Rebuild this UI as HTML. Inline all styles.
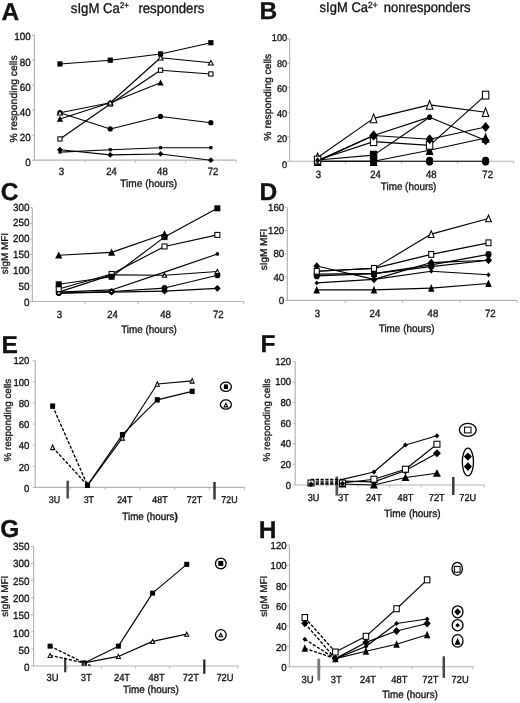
<!DOCTYPE html>
<html><head><meta charset="utf-8"><style>
html,body{margin:0;padding:0;background:#fff;}
body{width:520px;height:703px;overflow:hidden;}
svg{display:block;font-family:"Liberation Sans", sans-serif;text-rendering:geometricPrecision;}
text{fill:#111;stroke:#111;stroke-width:0.3px;}
svg{filter:grayscale(1) blur(0.3px);}
</style></head><body>
<svg width="520" height="703" viewBox="0 0 520 703">
<rect width="520" height="703" fill="#fff"/>
<text x="1.5" y="19.8" font-size="24.5" text-anchor="start" font-weight="bold" >A</text>
<path d="M34.4 35.2V160.2H236" fill="none" stroke="#b4b4b4" stroke-width="1.2"/>
<path d="M31.9 160.2H34.4 M31.9 135.2H34.4 M31.9 110.2H34.4 M31.9 85.2H34.4 M31.9 60.2H34.4 M31.9 35.2H34.4 M85.1 160.2V162.7 M135.4 160.2V162.7 M185.7 160.2V162.7 M236 160.2V162.7" stroke="#b4b4b4" stroke-width="1" fill="none"/>
<text transform="translate(30.8 165.92) scale(1 1.05)" font-size="9.9" text-anchor="end" font-weight="normal" >0</text>
<text transform="translate(30.8 140.92) scale(1 1.05)" font-size="9.9" text-anchor="end" font-weight="normal" >20</text>
<text transform="translate(30.8 115.92) scale(1 1.05)" font-size="9.9" text-anchor="end" font-weight="normal" >40</text>
<text transform="translate(30.8 90.92) scale(1 1.05)" font-size="9.9" text-anchor="end" font-weight="normal" >60</text>
<text transform="translate(30.8 65.92) scale(1 1.05)" font-size="9.9" text-anchor="end" font-weight="normal" >80</text>
<text transform="translate(30.8 39.52) scale(1 1.05)" font-size="9.9" text-anchor="end" font-weight="normal" >100</text>
<text transform="translate(61.3 175.3) scale(1 1.1)" font-size="9.6" text-anchor="middle" font-weight="normal" >3</text>
<text transform="translate(111.6 175.3) scale(1 1.1)" font-size="9.6" text-anchor="middle" font-weight="normal" >24</text>
<text transform="translate(162.4 175.3) scale(1 1.1)" font-size="9.6" text-anchor="middle" font-weight="normal" >48</text>
<text transform="translate(213 175.3) scale(1 1.1)" font-size="9.6" text-anchor="middle" font-weight="normal" >72</text>
<text transform="translate(120.2 186.5) scale(1 1.08)" font-size="10" textLength="57" lengthAdjust="spacingAndGlyphs">Time (hours)</text>
<text transform="translate(16.9 98.9) rotate(-90)" x="0" y="0" font-size="10.2" text-anchor="middle" textLength="87" lengthAdjust="spacingAndGlyphs">% responding cells</text>
<path d="M59.95 112.7L110.25 128.95" stroke="#000" stroke-width="1.15" fill="none"/>
<path d="M110.25 128.95L160.55 116.45" stroke="#000" stroke-width="1.15" fill="none"/>
<path d="M160.55 116.45L210.85 122.7" stroke="#000" stroke-width="1.15" fill="none"/>
<path d="M59.95 152.07L110.25 149.7" stroke="#000" stroke-width="1.15" fill="none"/>
<path d="M110.25 149.7L160.55 147.7" stroke="#000" stroke-width="1.15" fill="none"/>
<path d="M160.55 147.7L210.85 147.7" stroke="#000" stroke-width="1.15" fill="none"/>
<path d="M59.95 149.7L110.25 154.82" stroke="#000" stroke-width="1.15" fill="none"/>
<path d="M110.25 154.82L160.55 153.95" stroke="#000" stroke-width="1.15" fill="none"/>
<path d="M160.55 153.95L210.85 160.2" stroke="#000" stroke-width="1.15" fill="none"/>
<path d="M59.95 118.95L110.25 102.7" stroke="#000" stroke-width="1.15" fill="none"/>
<path d="M110.25 102.7L160.55 82.7" stroke="#000" stroke-width="1.15" fill="none"/>
<path d="M59.95 138.95L110.25 103.95" stroke="#000" stroke-width="1.15" fill="none"/>
<path d="M110.25 103.95L160.55 70.2" stroke="#000" stroke-width="1.15" fill="none"/>
<path d="M160.55 70.2L210.85 73.95" stroke="#000" stroke-width="1.15" fill="none"/>
<path d="M59.95 112.7L110.25 102.7" stroke="#000" stroke-width="1.15" fill="none"/>
<path d="M110.25 102.7L160.55 57.7" stroke="#000" stroke-width="1.15" fill="none"/>
<path d="M160.55 57.7L210.85 62.7" stroke="#000" stroke-width="1.15" fill="none"/>
<path d="M59.95 63.95L110.25 60.2" stroke="#000" stroke-width="1.15" fill="none"/>
<path d="M110.25 60.2L160.55 53.95" stroke="#000" stroke-width="1.15" fill="none"/>
<path d="M160.55 53.95L210.85 42.7" stroke="#000" stroke-width="1.15" fill="none"/>
<ellipse cx="59.95" cy="112.7" rx="2.6" ry="2.6" fill="#000"/>
<ellipse cx="110.25" cy="128.95" rx="2.6" ry="2.6" fill="#000"/>
<ellipse cx="160.55" cy="116.45" rx="2.6" ry="2.6" fill="#000"/>
<ellipse cx="210.85" cy="122.7" rx="2.6" ry="2.6" fill="#000"/>
<rect x="58.39" y="150.51" width="3.12" height="3.12" fill="#000"/>
<rect x="108.69" y="148.14" width="3.12" height="3.12" fill="#000"/>
<rect x="158.99" y="146.14" width="3.12" height="3.12" fill="#000"/>
<rect x="209.29" y="146.14" width="3.12" height="3.12" fill="#000"/>
<path d="M59.95 146.79L62.86 149.7L59.95 152.61L57.04 149.7Z" fill="#000"/>
<path d="M110.25 151.91L113.16 154.82L110.25 157.74L107.34 154.82Z" fill="#000"/>
<path d="M160.55 151.04L163.46 153.95L160.55 156.86L157.64 153.95Z" fill="#000"/>
<path d="M210.85 157.29L213.76 160.2L210.85 163.11L207.94 160.2Z" fill="#000"/>
<path d="M59.95 115.86L63.07 121.69L56.83 121.69Z" fill="#000"/>
<path d="M110.25 99.61L113.37 105.44L107.13 105.44Z" fill="#000"/>
<path d="M160.55 79.61L163.67 85.44L157.43 85.44Z" fill="#000"/>
<rect x="57.85" y="136.85" width="4.2" height="4.2" fill="#fff" stroke="#000" stroke-width="1.05"/>
<rect x="108.15" y="101.85" width="4.2" height="4.2" fill="#fff" stroke="#000" stroke-width="1.05"/>
<rect x="158.45" y="68.1" width="4.2" height="4.2" fill="#fff" stroke="#000" stroke-width="1.05"/>
<rect x="208.75" y="71.85" width="4.2" height="4.2" fill="#fff" stroke="#000" stroke-width="1.05"/>
<path d="M59.95 110.51L62.47 114.94L57.43 114.94Z" fill="#fff" stroke="#000" stroke-width="1.05" stroke-linejoin="miter"/>
<path d="M110.25 100.51L112.77 104.94L107.73 104.94Z" fill="#fff" stroke="#000" stroke-width="1.05" stroke-linejoin="miter"/>
<path d="M160.55 55.51L163.07 59.94L158.03 59.94Z" fill="#fff" stroke="#000" stroke-width="1.05" stroke-linejoin="miter"/>
<path d="M210.85 60.51L213.37 64.94L208.33 64.94Z" fill="#fff" stroke="#000" stroke-width="1.05" stroke-linejoin="miter"/>
<rect x="57.35" y="61.35" width="5.2" height="5.2" fill="#000"/>
<rect x="107.65" y="57.6" width="5.2" height="5.2" fill="#000"/>
<rect x="157.95" y="51.35" width="5.2" height="5.2" fill="#000"/>
<rect x="208.25" y="40.1" width="5.2" height="5.2" fill="#000"/>
<text x="259.4" y="18.75" font-size="24.5" text-anchor="start" font-weight="bold" >B</text>
<path d="M289.6 38.8V161.25H513.6" fill="none" stroke="#b4b4b4" stroke-width="1.2"/>
<path d="M287.1 161.25H289.6 M287.1 136.76H289.6 M287.1 112.27H289.6 M287.1 87.78H289.6 M287.1 63.29H289.6 M287.1 38.8H289.6 M345.6 161.25V163.75 M401.6 161.25V163.75 M457.6 161.25V163.75 M513.6 161.25V163.75" stroke="#b4b4b4" stroke-width="1" fill="none"/>
<text transform="translate(287.2 167.56) scale(1 1.05)" font-size="9.2" text-anchor="end" font-weight="normal" >0</text>
<text transform="translate(287.2 142.46) scale(1 1.05)" font-size="9.2" text-anchor="end" font-weight="normal" >20</text>
<text transform="translate(287.2 117.36) scale(1 1.05)" font-size="9.2" text-anchor="end" font-weight="normal" >40</text>
<text transform="translate(287.2 92.26) scale(1 1.05)" font-size="9.2" text-anchor="end" font-weight="normal" >60</text>
<text transform="translate(287.2 67.16) scale(1 1.05)" font-size="9.2" text-anchor="end" font-weight="normal" >80</text>
<text transform="translate(287.2 40.76) scale(1 1.05)" font-size="9.2" text-anchor="end" font-weight="normal" >100</text>
<text transform="translate(318.5 178.3) scale(1 1.1)" font-size="9.6" text-anchor="middle" font-weight="normal" >3</text>
<text transform="translate(375.5 178.3) scale(1 1.1)" font-size="9.6" text-anchor="middle" font-weight="normal" >24</text>
<text transform="translate(431.3 178.3) scale(1 1.1)" font-size="9.6" text-anchor="middle" font-weight="normal" >48</text>
<text transform="translate(487.7 178.3) scale(1 1.1)" font-size="9.6" text-anchor="middle" font-weight="normal" >72</text>
<text transform="translate(380.8 189.5) scale(1 1.08)" font-size="10" textLength="55.6" lengthAdjust="spacingAndGlyphs">Time (hours)</text>
<text transform="translate(271 97.2) rotate(-90)" x="0" y="0" font-size="10.2" text-anchor="middle" textLength="87" lengthAdjust="spacingAndGlyphs">% responding cells</text>
<path d="M317.6 161.25L373.6 161.25" stroke="#000" stroke-width="1.15" fill="none"/>
<path d="M373.6 161.25L429.6 161.25" stroke="#000" stroke-width="1.15" fill="none"/>
<path d="M429.6 161.25L485.6 161.25" stroke="#000" stroke-width="1.15" fill="none"/>
<path d="M317.6 161.25L373.6 161.25" stroke="#000" stroke-width="1.15" fill="none"/>
<path d="M373.6 161.25L429.6 150.23" stroke="#000" stroke-width="1.15" fill="none"/>
<path d="M429.6 150.23L485.6 137.98" stroke="#000" stroke-width="1.15" fill="none"/>
<path d="M317.6 157.58L373.6 118.39" stroke="#000" stroke-width="1.15" fill="none"/>
<path d="M373.6 118.39L429.6 104.92" stroke="#000" stroke-width="1.15" fill="none"/>
<path d="M429.6 104.92L485.6 112.27" stroke="#000" stroke-width="1.15" fill="none"/>
<path d="M317.6 160.03L373.6 155.13" stroke="#000" stroke-width="1.15" fill="none"/>
<path d="M373.6 155.13L429.6 117.17" stroke="#000" stroke-width="1.15" fill="none"/>
<path d="M317.6 160.03L373.6 141.66" stroke="#000" stroke-width="1.15" fill="none"/>
<path d="M373.6 141.66L429.6 145.33" stroke="#000" stroke-width="1.15" fill="none"/>
<path d="M429.6 145.33L485.6 95.13" stroke="#000" stroke-width="1.15" fill="none"/>
<path d="M317.6 161.25L373.6 135.54" stroke="#000" stroke-width="1.15" fill="none"/>
<path d="M373.6 135.54L429.6 117.17" stroke="#000" stroke-width="1.15" fill="none"/>
<path d="M429.6 117.17L485.6 140.43" stroke="#000" stroke-width="1.15" fill="none"/>
<path d="M317.6 160.52L373.6 135.54" stroke="#000" stroke-width="1.15" fill="none"/>
<path d="M373.6 135.54L429.6 139.21" stroke="#000" stroke-width="1.15" fill="none"/>
<path d="M429.6 139.21L485.6 126.96" stroke="#000" stroke-width="1.15" fill="none"/>
<ellipse cx="317.6" cy="161.25" rx="3.7" ry="4.4" fill="#000"/>
<ellipse cx="373.6" cy="161.25" rx="3.7" ry="4.4" fill="#000"/>
<ellipse cx="429.6" cy="161.25" rx="3.7" ry="4.4" fill="#000"/>
<ellipse cx="485.6" cy="161.25" rx="3.7" ry="4.4" fill="#000"/>
<path d="M317.6 155.89L321.49 166.01L313.72 166.01Z" fill="#000"/>
<path d="M373.6 155.89L377.49 166.01L369.72 166.01Z" fill="#000"/>
<path d="M429.6 144.87L433.49 154.99L425.72 154.99Z" fill="#000"/>
<path d="M485.6 132.62L489.49 142.74L481.72 142.74Z" fill="#000"/>
<path d="M317.6 153.11L320.88 161.83L314.32 161.83Z" fill="#fff" stroke="#000" stroke-width="1.05" stroke-linejoin="miter"/>
<path d="M373.6 113.93L376.88 122.65L370.32 122.65Z" fill="#fff" stroke="#000" stroke-width="1.05" stroke-linejoin="miter"/>
<path d="M429.6 100.46L432.88 109.18L426.32 109.18Z" fill="#fff" stroke="#000" stroke-width="1.05" stroke-linejoin="miter"/>
<path d="M485.6 107.81L488.88 116.53L482.32 116.53Z" fill="#fff" stroke="#000" stroke-width="1.05" stroke-linejoin="miter"/>
<rect x="369.9" y="150.73" width="7.4" height="8.8" fill="#000"/>
<ellipse cx="429.6" cy="117.17" rx="2.29" ry="2.73" fill="#000"/>
<rect x="314.4" y="156.13" width="6.4" height="7.8" fill="#fff" stroke="#000" stroke-width="1.05"/>
<rect x="370.4" y="137.76" width="6.4" height="7.8" fill="#fff" stroke="#000" stroke-width="1.05"/>
<rect x="426.4" y="141.43" width="6.4" height="7.8" fill="#fff" stroke="#000" stroke-width="1.05"/>
<rect x="482.4" y="91.23" width="6.4" height="7.8" fill="#fff" stroke="#000" stroke-width="1.05"/>
<path d="M373.6 130.61L377.74 135.54L373.6 140.46L369.46 135.54Z" fill="#000"/>
<ellipse cx="429.6" cy="117.17" rx="2.29" ry="2.73" fill="#000"/>
<path d="M485.6 135.51L489.74 140.43L485.6 145.36L481.46 140.43Z" fill="#000"/>
<path d="M317.6 157.35L320.26 160.52L317.6 163.68L314.94 160.52Z" fill="#000"/>
<path d="M373.6 130.61L377.74 135.54L373.6 140.46L369.46 135.54Z" fill="#000"/>
<path d="M429.6 134.28L433.74 139.21L429.6 144.14L425.46 139.21Z" fill="#000"/>
<path d="M485.6 122.04L489.74 126.96L485.6 131.89L481.46 126.96Z" fill="#000"/>
<text x="0.8" y="200.3" font-size="24.5" text-anchor="start" font-weight="bold" >C</text>
<path d="M32.3 207.7V301.5H243.8" fill="none" stroke="#b4b4b4" stroke-width="1.2"/>
<path d="M29.8 301.5H32.3 M29.8 285.87H32.3 M29.8 270.23H32.3 M29.8 254.6H32.3 M29.8 238.97H32.3 M29.8 223.33H32.3 M29.8 207.7H32.3 M85.17 301.5V304 M138.05 301.5V304 M190.93 301.5V304 M243.8 301.5V304" stroke="#b4b4b4" stroke-width="1" fill="none"/>
<text transform="translate(29.6 305.52) scale(1 1.05)" font-size="9.9" text-anchor="end" font-weight="normal" >0</text>
<text transform="translate(29.6 289.7) scale(1 1.05)" font-size="9.9" text-anchor="end" font-weight="normal" >50</text>
<text transform="translate(29.6 273.89) scale(1 1.05)" font-size="9.9" text-anchor="end" font-weight="normal" >100</text>
<text transform="translate(29.6 258.07) scale(1 1.05)" font-size="9.9" text-anchor="end" font-weight="normal" >150</text>
<text transform="translate(29.6 242.25) scale(1 1.05)" font-size="9.9" text-anchor="end" font-weight="normal" >200</text>
<text transform="translate(29.6 226.44) scale(1 1.05)" font-size="9.9" text-anchor="end" font-weight="normal" >250</text>
<text transform="translate(29.6 210.62) scale(1 1.05)" font-size="9.9" text-anchor="end" font-weight="normal" >300</text>
<text transform="translate(59.3 317.6) scale(1 1.1)" font-size="9.6" text-anchor="middle" font-weight="normal" >3</text>
<text transform="translate(112.5 317.6) scale(1 1.1)" font-size="9.6" text-anchor="middle" font-weight="normal" >24</text>
<text transform="translate(165.6 317.6) scale(1 1.1)" font-size="9.6" text-anchor="middle" font-weight="normal" >48</text>
<text transform="translate(218.3 317.6) scale(1 1.1)" font-size="9.6" text-anchor="middle" font-weight="normal" >72</text>
<text transform="translate(121.2 333.1) scale(1 1.08)" font-size="10" textLength="55.7" lengthAdjust="spacingAndGlyphs">Time (hours)</text>
<text transform="translate(8.4 253.6) rotate(-90)" x="0" y="0" font-size="9.9" text-anchor="middle" textLength="41.3" lengthAdjust="spacingAndGlyphs">sIgM MFI</text>
<path d="M58.74 293.06L111.61 292.12" stroke="#000" stroke-width="1.15" fill="none"/>
<path d="M111.61 292.12L164.49 291.18" stroke="#000" stroke-width="1.15" fill="none"/>
<path d="M164.49 291.18L217.36 288.37" stroke="#000" stroke-width="1.15" fill="none"/>
<path d="M58.74 293.06L111.61 291.49" stroke="#000" stroke-width="1.15" fill="none"/>
<path d="M111.61 291.49L164.49 288.06" stroke="#000" stroke-width="1.15" fill="none"/>
<path d="M164.49 288.06L217.36 275.24" stroke="#000" stroke-width="1.15" fill="none"/>
<path d="M58.74 292.12L111.61 289.93" stroke="#000" stroke-width="1.15" fill="none"/>
<path d="M111.61 289.93L164.49 272.11" stroke="#000" stroke-width="1.15" fill="none"/>
<path d="M164.49 272.11L217.36 253.97" stroke="#000" stroke-width="1.15" fill="none"/>
<path d="M58.74 292.12L111.61 274.92" stroke="#000" stroke-width="1.15" fill="none"/>
<path d="M111.61 274.92L164.49 275.24" stroke="#000" stroke-width="1.15" fill="none"/>
<path d="M164.49 275.24L217.36 271.48" stroke="#000" stroke-width="1.15" fill="none"/>
<path d="M58.74 288.99L111.61 273.99" stroke="#000" stroke-width="1.15" fill="none"/>
<path d="M111.61 273.99L164.49 246.47" stroke="#000" stroke-width="1.15" fill="none"/>
<path d="M164.49 246.47L217.36 234.9" stroke="#000" stroke-width="1.15" fill="none"/>
<path d="M58.74 255.23L111.61 252.41" stroke="#000" stroke-width="1.15" fill="none"/>
<path d="M111.61 252.41L164.49 233.96" stroke="#000" stroke-width="1.15" fill="none"/>
<path d="M58.74 284.3L111.61 276.8" stroke="#000" stroke-width="1.15" fill="none"/>
<path d="M111.61 276.8L164.49 237.09" stroke="#000" stroke-width="1.15" fill="none"/>
<path d="M164.49 237.09L217.36 208.33" stroke="#000" stroke-width="1.15" fill="none"/>
<path d="M58.74 290.36L61.44 293.06L58.74 295.76L56.04 293.06Z" fill="#fff" stroke="#000" stroke-width="1"/>
<path d="M111.61 288.76L114.97 292.12L111.61 295.48L108.25 292.12Z" fill="#000"/>
<path d="M164.49 287.82L167.85 291.18L164.49 294.54L161.13 291.18Z" fill="#000"/>
<path d="M217.36 285.01L220.72 288.37L217.36 291.73L214 288.37Z" fill="#000"/>
<ellipse cx="58.74" cy="293.06" rx="3" ry="3" fill="#000"/>
<ellipse cx="111.61" cy="291.49" rx="3" ry="3" fill="#000"/>
<ellipse cx="164.49" cy="288.06" rx="3" ry="3" fill="#000"/>
<ellipse cx="217.36" cy="275.24" rx="3" ry="3" fill="#000"/>
<path d="M111.61 289.23L113.41 292.63L109.81 292.63Z" fill="#fff" stroke="#000" stroke-width="1.05" stroke-linejoin="miter"/>
<path d="M58.74 289.42L61.44 292.12L58.74 294.82L56.04 292.12Z" fill="#fff" stroke="#000" stroke-width="1"/>
<ellipse cx="217.36" cy="253.97" rx="1.86" ry="1.86" fill="#000"/>
<path d="M58.74 290.09L60.9 294.21L56.58 294.21Z" fill="#fff" stroke="#000" stroke-width="1.05" stroke-linejoin="miter"/>
<path d="M111.61 272.9L113.77 277.02L109.45 277.02Z" fill="#fff" stroke="#000" stroke-width="1.05" stroke-linejoin="miter"/>
<path d="M164.49 273.21L166.65 277.33L162.33 277.33Z" fill="#fff" stroke="#000" stroke-width="1.05" stroke-linejoin="miter"/>
<path d="M217.36 269.46L219.52 273.58L215.2 273.58Z" fill="#fff" stroke="#000" stroke-width="1.05" stroke-linejoin="miter"/>
<rect x="56.24" y="286.49" width="5" height="5" fill="#fff" stroke="#000" stroke-width="1.05"/>
<rect x="109.11" y="271.49" width="5" height="5" fill="#fff" stroke="#000" stroke-width="1.05"/>
<rect x="161.99" y="243.97" width="5" height="5" fill="#fff" stroke="#000" stroke-width="1.05"/>
<rect x="214.86" y="232.4" width="5" height="5" fill="#fff" stroke="#000" stroke-width="1.05"/>
<path d="M58.74 251.41L62.34 258.61L55.14 258.61Z" fill="#000"/>
<path d="M111.61 248.6L115.21 255.8L108.01 255.8Z" fill="#000"/>
<path d="M164.49 230.15L168.09 237.35L160.89 237.35Z" fill="#000"/>
<rect x="55.74" y="281.3" width="6" height="6" fill="#000"/>
<rect x="108.61" y="273.8" width="6" height="6" fill="#000"/>
<rect x="161.49" y="234.09" width="6" height="6" fill="#000"/>
<rect x="214.36" y="205.33" width="6" height="6" fill="#000"/>
<text x="259.4" y="200" font-size="24.5" text-anchor="start" font-weight="bold" >D</text>
<path d="M287.3 207.4V300.3H517.1" fill="none" stroke="#b4b4b4" stroke-width="1.2"/>
<path d="M284.8 300.3H287.3 M284.8 277.07H287.3 M284.8 253.85H287.3 M284.8 230.62H287.3 M284.8 207.4H287.3 M345.35 300.3V302.8 M402.6 300.3V302.8 M459.85 300.3V302.8 M517.1 300.3V302.8" stroke="#b4b4b4" stroke-width="1" fill="none"/>
<text transform="translate(284.3 304.28) scale(1 1.05)" font-size="9.8" text-anchor="end" font-weight="normal" >0</text>
<text transform="translate(284.3 280.86) scale(1 1.05)" font-size="9.8" text-anchor="end" font-weight="normal" >40</text>
<text transform="translate(284.3 257.43) scale(1 1.05)" font-size="9.8" text-anchor="end" font-weight="normal" >80</text>
<text transform="translate(284.3 234.01) scale(1 1.05)" font-size="9.8" text-anchor="end" font-weight="normal" >120</text>
<text transform="translate(284.3 210.58) scale(1 1.05)" font-size="9.8" text-anchor="end" font-weight="normal" >160</text>
<text transform="translate(317.3 316.5) scale(1 1.1)" font-size="9.6" text-anchor="middle" font-weight="normal" >3</text>
<text transform="translate(374.9 316.5) scale(1 1.1)" font-size="9.6" text-anchor="middle" font-weight="normal" >24</text>
<text transform="translate(432.9 316.5) scale(1 1.1)" font-size="9.6" text-anchor="middle" font-weight="normal" >48</text>
<text transform="translate(490.3 316.5) scale(1 1.1)" font-size="9.6" text-anchor="middle" font-weight="normal" >72</text>
<text transform="translate(378.7 331.5) scale(1 1.08)" font-size="10" textLength="55.9" lengthAdjust="spacingAndGlyphs">Time (hours)</text>
<text transform="translate(267 249.5) rotate(-90)" x="0" y="0" font-size="9.9" text-anchor="middle" textLength="41.7" lengthAdjust="spacingAndGlyphs">sIgM MFI</text>
<path d="M316.73 289.85L373.98 289.85" stroke="#000" stroke-width="1.15" fill="none"/>
<path d="M373.98 289.85L431.23 288.11" stroke="#000" stroke-width="1.15" fill="none"/>
<path d="M431.23 288.11L488.48 283.46" stroke="#000" stroke-width="1.15" fill="none"/>
<path d="M316.73 282.88L373.98 279.4" stroke="#000" stroke-width="1.15" fill="none"/>
<path d="M373.98 279.4L431.23 271.27" stroke="#000" stroke-width="1.15" fill="none"/>
<path d="M431.23 271.27L488.48 274.75" stroke="#000" stroke-width="1.15" fill="none"/>
<path d="M316.73 266.04L373.98 279.4" stroke="#000" stroke-width="1.15" fill="none"/>
<path d="M373.98 279.4L431.23 262.56" stroke="#000" stroke-width="1.15" fill="none"/>
<path d="M431.23 262.56L488.48 260.24" stroke="#000" stroke-width="1.15" fill="none"/>
<path d="M316.73 274.17L373.98 273.59" stroke="#000" stroke-width="1.15" fill="none"/>
<path d="M373.98 273.59L431.23 266.62" stroke="#000" stroke-width="1.15" fill="none"/>
<path d="M431.23 266.62L488.48 260.24" stroke="#000" stroke-width="1.15" fill="none"/>
<path d="M316.73 275.91L373.98 273.59" stroke="#000" stroke-width="1.15" fill="none"/>
<path d="M373.98 273.59L431.23 264.88" stroke="#000" stroke-width="1.15" fill="none"/>
<path d="M431.23 264.88L488.48 254.43" stroke="#000" stroke-width="1.15" fill="none"/>
<path d="M316.73 271.27L373.98 268.37" stroke="#000" stroke-width="1.15" fill="none"/>
<path d="M373.98 268.37L431.23 254.43" stroke="#000" stroke-width="1.15" fill="none"/>
<path d="M431.23 254.43L488.48 242.82" stroke="#000" stroke-width="1.15" fill="none"/>
<path d="M316.73 271.27L373.98 268.37" stroke="#000" stroke-width="1.15" fill="none"/>
<path d="M373.98 268.37L431.23 234.11" stroke="#000" stroke-width="1.15" fill="none"/>
<path d="M431.23 234.11L488.48 218.43" stroke="#000" stroke-width="1.15" fill="none"/>
<path d="M316.73 285.81L319.97 293.43L313.49 293.43Z" fill="#000"/>
<path d="M373.98 285.81L377.22 293.43L370.74 293.43Z" fill="#000"/>
<path d="M431.23 284.07L434.47 291.69L427.99 291.69Z" fill="#000"/>
<path d="M488.48 279.43L491.72 287.04L485.24 287.04Z" fill="#000"/>
<path d="M316.73 280.43L318.89 282.88L316.73 285.33L314.56 282.88Z" fill="#000"/>
<path d="M373.98 276.95L376.14 279.4L373.98 281.85L371.81 279.4Z" fill="#000"/>
<path d="M431.23 268.82L433.39 271.27L431.23 273.72L429.06 271.27Z" fill="#000"/>
<path d="M488.48 272.3L490.64 274.75L488.48 277.2L486.31 274.75Z" fill="#000"/>
<path d="M316.73 262.24L320.09 266.04L316.73 269.85L313.37 266.04Z" fill="#000"/>
<path d="M373.98 275.59L377.34 279.4L373.98 283.21L370.62 279.4Z" fill="#000"/>
<path d="M431.23 258.75L434.59 262.56L431.23 266.37L427.87 262.56Z" fill="#000"/>
<path d="M488.48 256.43L491.84 260.24L488.48 264.04L485.12 260.24Z" fill="#000"/>
<ellipse cx="316.73" cy="274.17" rx="3" ry="3.4" fill="#000"/>
<rect x="370.98" y="270.19" width="6" height="6.8" fill="#000"/>
<ellipse cx="431.23" cy="266.62" rx="3" ry="3.4" fill="#000"/>
<path d="M488.48 256.43L491.84 260.24L488.48 264.04L485.12 260.24Z" fill="#000"/>
<ellipse cx="316.73" cy="275.91" rx="3" ry="3.4" fill="#000"/>
<ellipse cx="373.98" cy="273.59" rx="3" ry="3.4" fill="#000"/>
<ellipse cx="431.23" cy="264.88" rx="3" ry="3.4" fill="#000"/>
<ellipse cx="488.48" cy="254.43" rx="3" ry="3.4" fill="#000"/>
<rect x="314.23" y="268.37" width="5" height="5.8" fill="#fff" stroke="#000" stroke-width="1.05"/>
<rect x="371.48" y="265.47" width="5" height="5.8" fill="#fff" stroke="#000" stroke-width="1.05"/>
<rect x="428.73" y="251.53" width="5" height="5.8" fill="#fff" stroke="#000" stroke-width="1.05"/>
<rect x="485.98" y="239.92" width="5" height="5.8" fill="#fff" stroke="#000" stroke-width="1.05"/>
<path d="M431.23 230.7L434.08 237.43L428.37 237.43Z" fill="#fff" stroke="#000" stroke-width="1.05" stroke-linejoin="miter"/>
<path d="M488.48 215.03L491.33 221.75L485.62 221.75Z" fill="#fff" stroke="#000" stroke-width="1.05" stroke-linejoin="miter"/>
<text x="1.6" y="353.1" font-size="24.5" text-anchor="start" font-weight="bold" >E</text>
<path d="M35.2 360.8V487.4H244.5" fill="none" stroke="#b4b4b4" stroke-width="1.2"/>
<path d="M32.7 487.4H35.2 M32.7 466.3H35.2 M32.7 445.2H35.2 M32.7 424.1H35.2 M32.7 403H35.2 M32.7 381.9H35.2 M32.7 360.8H35.2 M70.08 487.4V489.9 M104.97 487.4V489.9 M139.85 487.4V489.9 M174.73 487.4V489.9 M209.62 487.4V489.9 M244.5 487.4V489.9" stroke="#b4b4b4" stroke-width="1" fill="none"/>
<text transform="translate(29.4 492.01) scale(1 1.05)" font-size="9.6" text-anchor="end" font-weight="normal" >0</text>
<text transform="translate(29.4 470.71) scale(1 1.05)" font-size="9.6" text-anchor="end" font-weight="normal" >20</text>
<text transform="translate(29.4 449.41) scale(1 1.05)" font-size="9.6" text-anchor="end" font-weight="normal" >40</text>
<text transform="translate(29.4 428.11) scale(1 1.05)" font-size="9.6" text-anchor="end" font-weight="normal" >60</text>
<text transform="translate(29.4 406.81) scale(1 1.05)" font-size="9.6" text-anchor="end" font-weight="normal" >80</text>
<text transform="translate(29.4 385.51) scale(1 1.05)" font-size="9.6" text-anchor="end" font-weight="normal" >100</text>
<text transform="translate(29.4 364.21) scale(1 1.05)" font-size="9.6" text-anchor="end" font-weight="normal" >120</text>
<text transform="translate(54.5 502.7) scale(1 1.1)" font-size="8.9" text-anchor="middle" font-weight="normal" >3U</text>
<text transform="translate(88.8 502.7) scale(1 1.1)" font-size="8.9" text-anchor="middle" font-weight="normal" >3T</text>
<text transform="translate(124.8 502.7) scale(1 1.1)" font-size="8.9" text-anchor="middle" font-weight="normal" >24T</text>
<text transform="translate(160 502.7) scale(1 1.1)" font-size="8.9" text-anchor="middle" font-weight="normal" >48T</text>
<text transform="translate(194.5 502.7) scale(1 1.1)" font-size="8.9" text-anchor="middle" font-weight="normal" >72T</text>
<text transform="translate(229.5 502.7) scale(1 1.1)" font-size="8.9" text-anchor="middle" font-weight="normal" >72U</text>
<text transform="translate(122.3 520) scale(1 1.08)" font-size="9.8" textLength="55.4" lengthAdjust="spacingAndGlyphs">Time (hours<tspan font-weight="bold">)</tspan></text>
<text transform="translate(10.5 420.25) rotate(-90)" x="0" y="0" font-size="9.8" text-anchor="middle" textLength="82.7" lengthAdjust="spacingAndGlyphs">% responding cells</text>
<rect x="66.5" y="480.7" width="2.4" height="17.8" fill="#444"/>
<rect x="213.3" y="482" width="2.4" height="17.5" fill="#333"/>
<path d="M52.64 447.31L87.53 485.29" stroke="#000" stroke-width="1.35" fill="none" stroke-dasharray="3.2 1.6"/>
<path d="M87.53 485.29L122.41 437.81" stroke="#000" stroke-width="1.15" fill="none"/>
<path d="M122.41 437.81L157.29 384.01" stroke="#000" stroke-width="1.15" fill="none"/>
<path d="M157.29 384.01L192.18 380.85" stroke="#000" stroke-width="1.15" fill="none"/>
<path d="M52.64 406.16L87.53 485.29" stroke="#000" stroke-width="1.35" fill="none" stroke-dasharray="3.2 1.6"/>
<path d="M87.53 485.29L122.41 434.65" stroke="#000" stroke-width="1.15" fill="none"/>
<path d="M122.41 434.65L157.29 399.84" stroke="#000" stroke-width="1.15" fill="none"/>
<path d="M157.29 399.84L192.18 391.39" stroke="#000" stroke-width="1.15" fill="none"/>
<path d="M52.64 445.06L54.67 449.6L50.62 449.6Z" fill="#fff" stroke="#000" stroke-width="1.05" stroke-linejoin="miter"/>
<path d="M87.53 483.04L89.55 487.58L85.5 487.58Z" fill="#fff" stroke="#000" stroke-width="1.05" stroke-linejoin="miter"/>
<path d="M122.41 435.57L124.43 440.11L120.38 440.11Z" fill="#fff" stroke="#000" stroke-width="1.05" stroke-linejoin="miter"/>
<path d="M157.29 381.76L159.32 386.3L155.27 386.3Z" fill="#fff" stroke="#000" stroke-width="1.05" stroke-linejoin="miter"/>
<path d="M192.18 378.6L194.2 383.14L190.15 383.14Z" fill="#fff" stroke="#000" stroke-width="1.05" stroke-linejoin="miter"/>
<rect x="50.14" y="403.46" width="5" height="5.4" fill="#000"/>
<rect x="85.03" y="482.59" width="5" height="5.4" fill="#000"/>
<rect x="119.91" y="431.95" width="5" height="5.4" fill="#000"/>
<rect x="154.79" y="397.14" width="5" height="5.4" fill="#000"/>
<rect x="189.68" y="388.69" width="5" height="5.4" fill="#000"/>
<ellipse cx="225.9" cy="386.7" rx="5.5" ry="4.6" fill="#fff" stroke="#000" stroke-width="1.3"/>
<rect x="223.9" y="384.4" width="4" height="4.6" fill="#000"/>
<ellipse cx="225.9" cy="404.5" rx="5.5" ry="4.6" fill="#fff" stroke="#000" stroke-width="1.3"/>
<path d="M225.9 403.22L227.72 406.88L224.09 406.88Z" fill="#fff" stroke="#000" stroke-width="1.05" stroke-linejoin="miter"/>
<text x="260.6" y="351.5" font-size="24.5" text-anchor="start" font-weight="bold" >F</text>
<path d="M295.2 361.2V485H484.2" fill="none" stroke="#b4b4b4" stroke-width="1.2"/>
<path d="M292.7 485H295.2 M292.7 464.37H295.2 M292.7 443.73H295.2 M292.7 423.1H295.2 M292.7 402.47H295.2 M292.7 381.83H295.2 M292.7 361.2H295.2 M326.7 485V487.5 M358.2 485V487.5 M389.7 485V487.5 M421.2 485V487.5 M452.7 485V487.5 M484.2 485V487.5" stroke="#b4b4b4" stroke-width="1" fill="none"/>
<text transform="translate(291.2 488.81) scale(1 1.05)" font-size="9.6" text-anchor="end" font-weight="normal" >0</text>
<text transform="translate(291.2 468.11) scale(1 1.05)" font-size="9.6" text-anchor="end" font-weight="normal" >20</text>
<text transform="translate(291.2 447.41) scale(1 1.05)" font-size="9.6" text-anchor="end" font-weight="normal" >40</text>
<text transform="translate(291.2 426.71) scale(1 1.05)" font-size="9.6" text-anchor="end" font-weight="normal" >60</text>
<text transform="translate(291.2 406.01) scale(1 1.05)" font-size="9.6" text-anchor="end" font-weight="normal" >80</text>
<text transform="translate(291.2 385.31) scale(1 1.05)" font-size="9.6" text-anchor="end" font-weight="normal" >100</text>
<text transform="translate(291.2 364.61) scale(1 1.05)" font-size="9.6" text-anchor="end" font-weight="normal" >120</text>
<text transform="translate(313.5 501.3) scale(1 1.1)" font-size="9.2" text-anchor="middle" font-weight="normal" >3U</text>
<text transform="translate(343.4 501.3) scale(1 1.1)" font-size="9.2" text-anchor="middle" font-weight="normal" >3T</text>
<text transform="translate(373.9 501.3) scale(1 1.1)" font-size="9.2" text-anchor="middle" font-weight="normal" >24T</text>
<text transform="translate(405.5 501.3) scale(1 1.1)" font-size="9.2" text-anchor="middle" font-weight="normal" >48T</text>
<text transform="translate(436.7 501.3) scale(1 1.1)" font-size="9.2" text-anchor="middle" font-weight="normal" >72T</text>
<text transform="translate(467.7 501.3) scale(1 1.1)" font-size="9.2" text-anchor="middle" font-weight="normal" >72U</text>
<text transform="translate(384.3 517) scale(1 1.08)" font-size="9.9" textLength="56.2" lengthAdjust="spacingAndGlyphs">Time (hours)</text>
<text transform="translate(270.2 420) rotate(-90)" x="0" y="0" font-size="9.8" text-anchor="middle" textLength="83" lengthAdjust="spacingAndGlyphs">% responding cells</text>
<rect x="335.5" y="476.5" width="2.6" height="19.1" fill="#555"/>
<rect x="452.1" y="477" width="2.4" height="18" fill="#333"/>
<path d="M310.95 483.97L342.45 483.97" stroke="#000" stroke-width="1.35" fill="none" stroke-dasharray="3.2 1.6"/>
<path d="M342.45 483.97L373.95 485" stroke="#000" stroke-width="1.15" fill="none"/>
<path d="M373.95 485L405.45 477.47" stroke="#000" stroke-width="1.15" fill="none"/>
<path d="M405.45 477.47L436.95 473.24" stroke="#000" stroke-width="1.15" fill="none"/>
<path d="M310.95 481.18L342.45 481.18" stroke="#000" stroke-width="1.35" fill="none" stroke-dasharray="3.2 1.6"/>
<path d="M342.45 481.18L373.95 481.9" stroke="#000" stroke-width="1.15" fill="none"/>
<path d="M373.95 481.9L405.45 470.56" stroke="#000" stroke-width="1.15" fill="none"/>
<path d="M405.45 470.56L436.95 453.22" stroke="#000" stroke-width="1.15" fill="none"/>
<path d="M310.95 479.43L342.45 479.43" stroke="#000" stroke-width="1.35" fill="none" stroke-dasharray="3.2 1.6"/>
<path d="M342.45 479.43L373.95 472" stroke="#000" stroke-width="1.15" fill="none"/>
<path d="M373.95 472L405.45 444.97" stroke="#000" stroke-width="1.15" fill="none"/>
<path d="M405.45 444.97L436.95 435.79" stroke="#000" stroke-width="1.15" fill="none"/>
<path d="M310.95 483.04L342.45 483.04" stroke="#000" stroke-width="1.35" fill="none" stroke-dasharray="3.2 1.6"/>
<path d="M342.45 483.04L373.95 479.22" stroke="#000" stroke-width="1.15" fill="none"/>
<path d="M373.95 479.22L405.45 469.22" stroke="#000" stroke-width="1.15" fill="none"/>
<path d="M405.45 469.22L436.95 444.25" stroke="#000" stroke-width="1.15" fill="none"/>
<path d="M342.45 479.89L346.47 487.59L338.43 487.59Z" fill="#000"/>
<path d="M373.95 480.92L377.97 488.62L369.93 488.62Z" fill="#000"/>
<path d="M405.45 473.39L409.47 481.09L401.43 481.09Z" fill="#000"/>
<path d="M436.95 469.16L440.97 476.86L432.93 476.86Z" fill="#000"/>
<path d="M373.95 477.98L377.87 481.9L373.95 485.82L370.03 481.9Z" fill="#000"/>
<path d="M405.45 466.64L409.37 470.56L405.45 474.48L401.53 470.56Z" fill="#000"/>
<path d="M436.95 449.3L440.87 453.22L436.95 457.14L433.03 453.22Z" fill="#000"/>
<path d="M373.95 469.48L376.47 472L373.95 474.52L371.43 472Z" fill="#000"/>
<path d="M405.45 442.45L407.97 444.97L405.45 447.49L402.93 444.97Z" fill="#000"/>
<path d="M436.95 433.27L439.47 435.79L436.95 438.31L434.43 435.79Z" fill="#000"/>
<rect x="307.95" y="480.04" width="6" height="6" fill="#fff" stroke="#000" stroke-width="1.05"/>
<rect x="339.45" y="480.04" width="6" height="6" fill="#fff" stroke="#000" stroke-width="1.05"/>
<rect x="370.95" y="476.22" width="6" height="6" fill="#fff" stroke="#000" stroke-width="1.05"/>
<rect x="402.45" y="466.22" width="6" height="6" fill="#fff" stroke="#000" stroke-width="1.05"/>
<rect x="433.95" y="441.25" width="6" height="6" fill="#fff" stroke="#000" stroke-width="1.05"/>
<path d="M310.95 481.37L313.75 484.17L310.95 486.97L308.15 484.17Z" fill="#000"/>
<path d="M342.45 480.65L345.25 483.45L342.45 486.25L339.65 483.45Z" fill="#000"/>
<ellipse cx="467.8" cy="429.8" rx="8.4" ry="6.5" fill="#fff" stroke="#000" stroke-width="1.3"/>
<rect x="464.6" y="427.1" width="6.4" height="5.8" fill="#fff" stroke="#000" stroke-width="1.05"/>
<ellipse cx="467.9" cy="461.9" rx="5.6" ry="13.8" fill="#fff" stroke="#000" stroke-width="1.3"/>
<path d="M467.9 452.57L471.93 456.6L467.9 460.63L463.87 456.6Z" fill="#000"/>
<path d="M467.9 462.23L471.93 466.6L467.9 470.97L463.87 466.6Z" fill="#000"/>
<text x="0.2" y="537" font-size="24.5" text-anchor="start" font-weight="bold" >G</text>
<path d="M33.6 546.2V666H238" fill="none" stroke="#b4b4b4" stroke-width="1.2"/>
<path d="M31.1 666H33.6 M31.1 648.89H33.6 M31.1 631.77H33.6 M31.1 614.66H33.6 M31.1 597.54H33.6 M31.1 580.43H33.6 M31.1 563.31H33.6 M31.1 546.2H33.6 M67.17 666V668.5 M101.33 666V668.5 M135.5 666V668.5 M169.67 666V668.5 M203.83 666V668.5 M238 666V668.5" stroke="#b4b4b4" stroke-width="1" fill="none"/>
<text transform="translate(29.5 671.32) scale(1 1.05)" font-size="9.9" text-anchor="end" font-weight="normal" >0</text>
<text transform="translate(29.5 653.96) scale(1 1.05)" font-size="9.9" text-anchor="end" font-weight="normal" >50</text>
<text transform="translate(29.5 636.61) scale(1 1.05)" font-size="9.9" text-anchor="end" font-weight="normal" >100</text>
<text transform="translate(29.5 619.25) scale(1 1.05)" font-size="9.9" text-anchor="end" font-weight="normal" >150</text>
<text transform="translate(29.5 601.89) scale(1 1.05)" font-size="9.9" text-anchor="end" font-weight="normal" >200</text>
<text transform="translate(29.5 584.54) scale(1 1.05)" font-size="9.9" text-anchor="end" font-weight="normal" >250</text>
<text transform="translate(29.5 567.18) scale(1 1.05)" font-size="9.9" text-anchor="end" font-weight="normal" >300</text>
<text transform="translate(29.5 549.82) scale(1 1.05)" font-size="9.9" text-anchor="end" font-weight="normal" >350</text>
<text transform="translate(52.5 681) scale(1 1.1)" font-size="9.4" text-anchor="middle" font-weight="normal" >3U</text>
<text transform="translate(86.3 681) scale(1 1.1)" font-size="9.4" text-anchor="middle" font-weight="normal" >3T</text>
<text transform="translate(122 681) scale(1 1.1)" font-size="9.4" text-anchor="middle" font-weight="normal" >24T</text>
<text transform="translate(156.6 681) scale(1 1.1)" font-size="9.4" text-anchor="middle" font-weight="normal" >48T</text>
<text transform="translate(190.8 681) scale(1 1.1)" font-size="9.4" text-anchor="middle" font-weight="normal" >72T</text>
<text transform="translate(225 681) scale(1 1.1)" font-size="9.4" text-anchor="middle" font-weight="normal" >72U</text>
<text transform="translate(123.1 693.1) scale(1 1.08)" font-size="9.9" textLength="55.7" lengthAdjust="spacingAndGlyphs">Time (hours)</text>
<text transform="translate(8.4 596.35) rotate(-90)" x="0" y="0" font-size="9.8" text-anchor="middle" textLength="41" lengthAdjust="spacingAndGlyphs">sIgM MFI</text>
<rect x="64.1" y="657.6" width="2.2" height="14.7" fill="#333"/>
<rect x="203.2" y="659.5" width="2.2" height="14.3" fill="#222"/>
<path d="M50.08 646.15L84.25 662.92" stroke="#000" stroke-width="1.35" fill="none" stroke-dasharray="3.2 1.6"/>
<path d="M84.25 662.92L118.42 646.15" stroke="#000" stroke-width="1.15" fill="none"/>
<path d="M118.42 646.15L152.58 593.09" stroke="#000" stroke-width="1.15" fill="none"/>
<path d="M152.58 593.09L186.75 564.34" stroke="#000" stroke-width="1.15" fill="none"/>
<path d="M50.08 655.39L84.25 662.92" stroke="#000" stroke-width="1.35" fill="none" stroke-dasharray="3.2 1.6"/>
<path d="M84.25 662.92L118.42 656.42" stroke="#000" stroke-width="1.15" fill="none"/>
<path d="M118.42 656.42L152.58 641.36" stroke="#000" stroke-width="1.15" fill="none"/>
<path d="M152.58 641.36L186.75 634.17" stroke="#000" stroke-width="1.15" fill="none"/>
<rect x="47.58" y="643.65" width="5" height="5" fill="#000"/>
<rect x="81.75" y="660.42" width="5" height="5" fill="#000"/>
<rect x="115.92" y="643.65" width="5" height="5" fill="#000"/>
<rect x="150.08" y="590.59" width="5" height="5" fill="#000"/>
<rect x="184.25" y="561.84" width="5" height="5" fill="#000"/>
<path d="M50.08 653.37L52.11 657.47L48.06 657.47Z" fill="#fff" stroke="#000" stroke-width="1.05" stroke-linejoin="miter"/>
<path d="M84.25 660.9L86.28 665L82.22 665Z" fill="#fff" stroke="#000" stroke-width="1.05" stroke-linejoin="miter"/>
<path d="M118.42 654.4L120.44 658.5L116.39 658.5Z" fill="#fff" stroke="#000" stroke-width="1.05" stroke-linejoin="miter"/>
<path d="M152.58 639.34L154.61 643.44L150.56 643.44Z" fill="#fff" stroke="#000" stroke-width="1.05" stroke-linejoin="miter"/>
<path d="M186.75 632.15L188.78 636.25L184.72 636.25Z" fill="#fff" stroke="#000" stroke-width="1.05" stroke-linejoin="miter"/>
<path d="M84.3 662.9L91 665.8" stroke="#000" stroke-width="1.35" stroke-dasharray="2.6 1.6"/>
<ellipse cx="220.8" cy="563.5" rx="5.35" ry="5.35" fill="#fff" stroke="#000" stroke-width="1.3"/>
<rect x="218.3" y="560.9" width="5" height="5" fill="#000"/>
<ellipse cx="220.8" cy="634.9" rx="5.35" ry="5.35" fill="#fff" stroke="#000" stroke-width="1.3"/>
<path d="M220.8 633.33L222.62 636.77L218.99 636.77Z" fill="#fff" stroke="#000" stroke-width="1.05" stroke-linejoin="miter"/>
<text x="258.7" y="537.7" font-size="24.5" text-anchor="start" font-weight="bold" >H</text>
<path d="M289.5 545V666.75H473" fill="none" stroke="#b4b4b4" stroke-width="1.2"/>
<path d="M287 666.75H289.5 M287 646.46H289.5 M287 626.17H289.5 M287 605.88H289.5 M287 585.58H289.5 M287 565.29H289.5 M287 545H289.5 M320.08 666.75V669.25 M350.67 666.75V669.25 M381.25 666.75V669.25 M411.83 666.75V669.25 M442.42 666.75V669.25 M473 666.75V669.25" stroke="#b4b4b4" stroke-width="1" fill="none"/>
<text transform="translate(286.6 671.01) scale(1 1.05)" font-size="9.6" text-anchor="end" font-weight="normal" >0</text>
<text transform="translate(286.6 650.69) scale(1 1.05)" font-size="9.6" text-anchor="end" font-weight="normal" >20</text>
<text transform="translate(286.6 630.38) scale(1 1.05)" font-size="9.6" text-anchor="end" font-weight="normal" >40</text>
<text transform="translate(286.6 610.06) scale(1 1.05)" font-size="9.6" text-anchor="end" font-weight="normal" >60</text>
<text transform="translate(286.6 589.74) scale(1 1.05)" font-size="9.6" text-anchor="end" font-weight="normal" >80</text>
<text transform="translate(286.6 569.43) scale(1 1.05)" font-size="9.6" text-anchor="end" font-weight="normal" >100</text>
<text transform="translate(286.6 549.11) scale(1 1.05)" font-size="9.6" text-anchor="end" font-weight="normal" >120</text>
<text transform="translate(307.5 682.8) scale(1 1.1)" font-size="9.4" text-anchor="middle" font-weight="normal" >3U</text>
<text transform="translate(336.3 682.8) scale(1 1.1)" font-size="9.4" text-anchor="middle" font-weight="normal" >3T</text>
<text transform="translate(368 682.8) scale(1 1.1)" font-size="9.4" text-anchor="middle" font-weight="normal" >24T</text>
<text transform="translate(399.4 682.8) scale(1 1.1)" font-size="9.4" text-anchor="middle" font-weight="normal" >48T</text>
<text transform="translate(430.3 682.8) scale(1 1.1)" font-size="9.4" text-anchor="middle" font-weight="normal" >72T</text>
<text transform="translate(460.2 682.8) scale(1 1.1)" font-size="9.4" text-anchor="middle" font-weight="normal" >72U</text>
<text transform="translate(382.2 697.5) scale(1 1.08)" font-size="9.8" textLength="55.7" lengthAdjust="spacingAndGlyphs">Time (hours)</text>
<text transform="translate(267.4 596.35) rotate(-90)" x="0" y="0" font-size="9.8" text-anchor="middle" textLength="41" lengthAdjust="spacingAndGlyphs">sIgM MFI</text>
<rect x="317.4" y="658.7" width="2.8" height="21.8" fill="#777"/>
<rect x="442.6" y="656.3" width="2.4" height="21.6" fill="#444"/>
<path d="M304.79 648.28L335.38 658.63" stroke="#000" stroke-width="1.35" fill="none" stroke-dasharray="3.2 1.6"/>
<path d="M335.38 658.63L365.96 651.23" stroke="#000" stroke-width="1.15" fill="none"/>
<path d="M365.96 651.23L396.54 644.23" stroke="#000" stroke-width="1.15" fill="none"/>
<path d="M396.54 644.23L427.12 634.79" stroke="#000" stroke-width="1.15" fill="none"/>
<path d="M304.79 639.25L335.38 658.63" stroke="#000" stroke-width="1.35" fill="none" stroke-dasharray="3.2 1.6"/>
<path d="M335.38 658.63L365.96 646.46" stroke="#000" stroke-width="1.15" fill="none"/>
<path d="M365.96 646.46L396.54 623.53" stroke="#000" stroke-width="1.15" fill="none"/>
<path d="M396.54 623.53L427.12 618.96" stroke="#000" stroke-width="1.15" fill="none"/>
<path d="M304.79 623.22L335.38 658.63" stroke="#000" stroke-width="1.35" fill="none" stroke-dasharray="3.2 1.6"/>
<path d="M335.38 658.63L365.96 642.4" stroke="#000" stroke-width="1.15" fill="none"/>
<path d="M365.96 642.4L396.54 631.04" stroke="#000" stroke-width="1.15" fill="none"/>
<path d="M396.54 631.04L427.12 623.53" stroke="#000" stroke-width="1.15" fill="none"/>
<path d="M304.79 617.54L335.38 652.04" stroke="#000" stroke-width="1.35" fill="none" stroke-dasharray="3.2 1.6"/>
<path d="M335.38 652.04L365.96 636.31" stroke="#000" stroke-width="1.15" fill="none"/>
<path d="M365.96 636.31L396.54 608.72" stroke="#000" stroke-width="1.15" fill="none"/>
<path d="M396.54 608.72L427.12 579.8" stroke="#000" stroke-width="1.15" fill="none"/>
<path d="M304.79 644.28L308.04 651.84L301.54 651.84Z" fill="#000"/>
<path d="M335.38 654.63L338.62 662.19L332.12 662.19Z" fill="#000"/>
<path d="M365.96 647.22L369.21 654.78L362.71 654.78Z" fill="#000"/>
<path d="M396.54 640.22L399.79 647.78L393.29 647.78Z" fill="#000"/>
<path d="M427.12 630.78L430.38 638.34L423.88 638.34Z" fill="#000"/>
<path d="M304.79 636.73L307.13 639.25L304.79 641.77L302.45 639.25Z" fill="#000"/>
<path d="M335.38 656.11L337.71 658.63L335.38 661.15L333.04 658.63Z" fill="#000"/>
<path d="M365.96 643.94L368.3 646.46L365.96 648.98L363.62 646.46Z" fill="#000"/>
<path d="M396.54 621.01L398.88 623.53L396.54 626.05L394.2 623.53Z" fill="#000"/>
<path d="M427.12 616.44L429.46 618.96L427.12 621.48L424.79 618.96Z" fill="#000"/>
<path d="M304.79 619.3L308.43 623.22L304.79 627.14L301.15 623.22Z" fill="#000"/>
<path d="M335.38 654.71L339.01 658.63L335.38 662.55L331.74 658.63Z" fill="#000"/>
<path d="M365.96 638.48L369.6 642.4L365.96 646.32L362.32 642.4Z" fill="#000"/>
<path d="M396.54 627.12L400.18 631.04L396.54 634.96L392.9 631.04Z" fill="#000"/>
<path d="M427.12 619.61L430.76 623.53L427.12 627.45L423.49 623.53Z" fill="#000"/>
<rect x="302.04" y="614.54" width="5.5" height="6" fill="#fff" stroke="#000" stroke-width="1.05"/>
<rect x="332.62" y="649.04" width="5.5" height="6" fill="#fff" stroke="#000" stroke-width="1.05"/>
<rect x="363.21" y="633.31" width="5.5" height="6" fill="#fff" stroke="#000" stroke-width="1.05"/>
<rect x="393.79" y="605.72" width="5.5" height="6" fill="#fff" stroke="#000" stroke-width="1.05"/>
<rect x="424.38" y="576.8" width="5.5" height="6" fill="#fff" stroke="#000" stroke-width="1.05"/>
<ellipse cx="457.2" cy="568.8" rx="5.2" ry="6.5" fill="#fff" stroke="#000" stroke-width="1.3"/>
<rect x="454.3" y="566.4" width="5.8" height="5.8" fill="#fff" stroke="#000" stroke-width="1.05"/>
<ellipse cx="457.6" cy="611.8" rx="5.4" ry="6" fill="#fff" stroke="#000" stroke-width="1.3"/>
<path d="M457.6 608.22L461.07 611.8L457.6 615.38L454.13 611.8Z" fill="#000"/>
<ellipse cx="457.6" cy="625.2" rx="5.4" ry="5.6" fill="#fff" stroke="#000" stroke-width="1.3"/>
<path d="M457.6 622.9L459.9 625.2L457.6 627.5L455.3 625.2Z" fill="#000"/>
<ellipse cx="457.6" cy="640.9" rx="5.4" ry="6.3" fill="#fff" stroke="#000" stroke-width="1.3"/>
<path d="M457.6 637.72L460.6 644.85L454.6 644.85Z" fill="#000"/>
<text transform="translate(70.8 12.5) scale(1 1.08)" font-size="13.2">sIgM Ca<tspan font-size="7.8" dy="-4.6">2+</tspan><tspan dy="4.6" font-size="13.2" x="67.6">responders</tspan></text>
<text transform="translate(319.6 12.3) scale(1 1.08)" font-size="13.0">sIgM Ca<tspan font-size="8.4" dy="-4.3">2+</tspan><tspan dy="4.3" font-size="13.0" x="64.2">nonresponders</tspan></text>
</svg>
</body></html>
